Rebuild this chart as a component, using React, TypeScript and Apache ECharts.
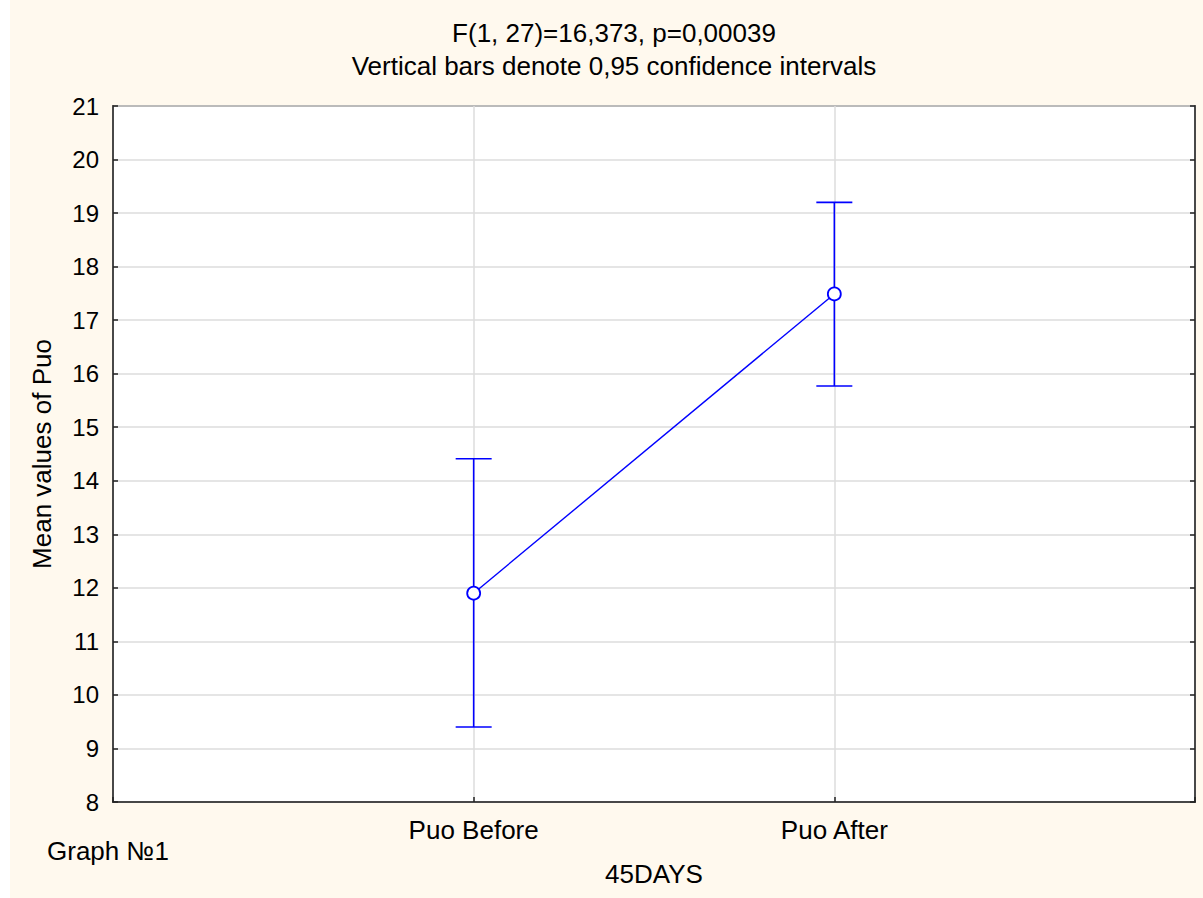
import React, { useEffect, useRef } from "react";
import * as echarts from "echarts";

const categories = ["Puo Before", "Puo After"];
const means = [11.9, 17.49];
const lowerCI = [9.4, 15.77];
const upperCI = [14.41, 19.2];
const yTicks = { min: 8, max: 21, interval: 1 };
const titleLines = ["F(1, 27)=16,373, p=0,00039", "Vertical bars denote 0,95 confidence intervals"];
const xAxisName = "45DAYS";
const yAxisName = "Mean values of Puo";
const footLabel = "Graph №1";

const FONT = "'Liberation Sans', Arial, sans-serif";
const BLUE = "#0000FF";
const TXT = 26;

export default function App() {
  const ref = useRef<HTMLDivElement>(null);
  useEffect(() => {
    if (!ref.current) return;
    const chart = echarts.init(ref.current, null, { renderer: "svg" });
    const pts = categories.map((_, i) => [i + 1, means[i]]);
    const errs = categories.map((_, i) => [i + 1, lowerCI[i], upperCI[i]]);
    chart.setOption({
      animation: false,
      backgroundColor: "#ffffff",
      textStyle: { fontFamily: FONT },
      graphic: [
        { type: "rect", z: -10, silent: true, shape: { x: 10, y: 0, width: 1193, height: 898 }, style: { fill: "#FFF9EE" } },
        { type: "text", x: 614, y: 33, style: { text: titleLines[0], font: `${TXT}px ${FONT}`, fill: "#000", textAlign: "center", textVerticalAlign: "middle" } },
        { type: "text", x: 614, y: 66, style: { text: titleLines[1], font: `${TXT}px ${FONT}`, fill: "#000", textAlign: "center", textVerticalAlign: "middle" } },
        { type: "text", x: 47, y: 851, style: { text: footLabel, font: `${TXT}px ${FONT}`, fill: "#000", textAlign: "left", textVerticalAlign: "middle" } },
      ],
      grid: { left: 113, top: 106, right: 8, bottom: 96, show: true, backgroundColor: "#ffffff", borderColor: "#222", borderWidth: 1.5 },
      xAxis: {
        type: "value",
        min: 0,
        max: 3,
        interval: 1,
        name: xAxisName,
        nameLocation: "middle",
        nameGap: 59,
        nameTextStyle: { fontSize: TXT, color: "#000", fontFamily: FONT },
        axisLine: { show: true, lineStyle: { color: "#222", width: 1.5 } },
        axisTick: { show: true, inside: true, length: 5, lineStyle: { color: "#222", width: 1.5 } },
        axisLabel: {
          fontSize: TXT,
          color: "#000",
          fontFamily: FONT,
          margin: 15,
          formatter: (v: number) => (v >= 1 && v <= categories.length && Number.isInteger(v) ? categories[v - 1] : ""),
        },
        splitLine: { show: true, lineStyle: { color: "#DCDCDC", width: 1.5 } },
      },
      yAxis: [
        {
          type: "value",
          min: yTicks.min,
          max: yTicks.max,
          interval: yTicks.interval,
          name: yAxisName,
          nameLocation: "middle",
          nameGap: 58,
          nameTextStyle: { fontSize: TXT, color: "#000", fontFamily: FONT },
          axisLine: { show: true, lineStyle: { color: "#222", width: 1.5 } },
          axisTick: { show: true, inside: true, length: 5, lineStyle: { color: "#222", width: 1.5 } },
          axisLabel: { fontSize: 24, color: "#000", fontFamily: FONT, margin: 14 },
          splitLine: { show: true, lineStyle: { color: "#DCDCDC", width: 1.5 } },
        },
        {
          type: "value",
          position: "right",
          min: yTicks.min,
          max: yTicks.max,
          interval: yTicks.interval,
          axisLine: { show: true, lineStyle: { color: "#222", width: 1.5 } },
          axisTick: { show: true, inside: true, length: 5, lineStyle: { color: "#222", width: 1.5 } },
          axisLabel: { show: false },
          splitLine: { show: false },
        },
      ],
      series: [
        {
          type: "custom",
          z: 2,
          data: errs,
          renderItem: (params: any, api: any) => {
            const x = api.value(0);
            const lo = api.coord([x, api.value(1)]);
            const hi = api.coord([x, api.value(2)]);
            const half = 18;
            const style = { stroke: BLUE, lineWidth: 1.6 };
            return {
              type: "group",
              children: [
                { type: "line", shape: { x1: lo[0], y1: lo[1], x2: hi[0], y2: hi[1] }, style },
                { type: "line", shape: { x1: hi[0] - half, y1: hi[1], x2: hi[0] + half, y2: hi[1] }, style },
                { type: "line", shape: { x1: lo[0] - half, y1: lo[1], x2: lo[0] + half, y2: lo[1] }, style },
              ],
            };
          },
        },
        {
          type: "line",
          z: 3,
          data: pts,
          symbol: "circle",
          symbolSize: 13,
          itemStyle: { color: "#ffffff", borderColor: BLUE, borderWidth: 1.8 },
          lineStyle: { color: BLUE, width: 1.4 },
        },
      ],
    });
    return () => chart.dispose();
  }, []);
  return <div ref={ref} style={{ position: "absolute", left: 0, top: 0, width: 1203, height: 898 }} />;
}
